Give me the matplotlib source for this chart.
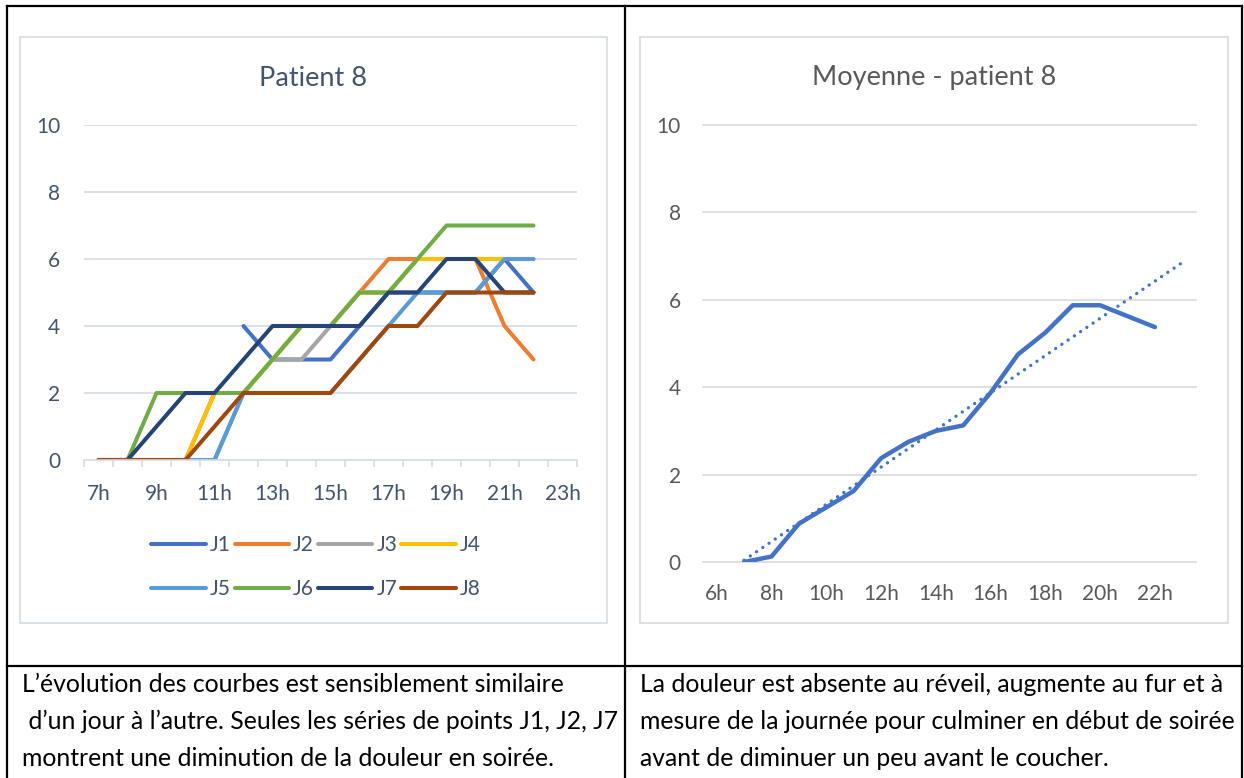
import numpy as np
import matplotlib.pyplot as plt
from matplotlib.patches import Rectangle
from matplotlib.lines import Line2D

plt.rcParams['font.family'] = ['Lato', 'DejaVu Sans']

# left chart: pain per hour for each day J1..J8
hours_left = ["7h", "8h", "9h", "10h", "11h", "12h", "13h", "14h", "15h",
              "16h", "17h", "18h", "19h", "20h", "21h", "22h", "23h"]
nan = np.nan
j1 = [nan, nan, nan, nan, nan, 4, 3, 3, 3, 4, 5, 5, 5, 5, 6, 5, nan]
j2 = [0, 0, 0, 0, 2, 2, 3, 4, 4, 5, 6, 6, 6, 6, 4, 3, nan]
j3 = [0, 0, 0, 0, 0, 2, 3, 3, 4, 5, 5, 6, 6, 6, 6, 6, nan]
j4 = [0, 0, 0, 0, 2, 2, 3, 4, 4, 5, 5, 6, 6, 6, 6, 6, nan]
j5 = [0, 0, 0, 0, 0, 2, 2, 2, 2, 3, 4, 5, 5, 5, 6, 6, nan]
j6 = [0, 0, 2, 2, 2, 2, 3, 4, 4, 5, 5, 6, 7, 7, 7, 7, nan]
j7 = [0, 0, 1, 2, 2, 3, 4, 4, 4, 4, 5, 5, 6, 6, 5, 5, nan]
j8 = [0, 0, 0, 0, 1, 2, 2, 2, 2, 3, 4, 4, 5, 5, 5, 5, nan]
series_names = ["J1", "J2", "J3", "J4", "J5", "J6", "J7", "J8"]
series_colors = ["#4472C4", "#ED7D31", "#A5A5A5", "#FFC000",
                 "#5B9BD5", "#70AD47", "#264478", "#9E480E"]

# right chart: mean
hours_right = ["6h", "7h", "8h", "9h", "10h", "11h", "12h", "13h", "14h",
               "15h", "16h", "17h", "18h", "19h", "20h", "21h", "22h", "23h"]
mean_vals = [nan, 0, 0.125, 0.875, 1.25, 1.625, 2.375, 2.75, 3.0, 3.125,
             3.875, 4.75, 5.25, 5.875, 5.875, 5.625, 5.375, nan]

text_left = ["L\u2019évolution des courbes est sensiblement similaire",
             " d\u2019un jour à l\u2019autre. Seules les séries de points J1, J2, J7",
             "montrent une diminution de la douleur en soirée."]
text_right = ["La douleur est absente au réveil, augmente au fur et à",
              "mesure de la journée pour culminer en début de soirée",
              "avant de diminuer un peu avant le coucher."]

W, H = 1244, 778
fig = plt.figure(figsize=(W / 100, H / 100), dpi=100)


def fx(px):
    return px / W


def fy(py):
    return 1 - py / H


# table borders
for (x0, y0, x1, y1) in [(7, 6, 1242, 6), (7, 6, 7, 778), (1242, 6, 1242, 778),
                         (625, 6, 625, 778), (7, 666, 1242, 666)]:
    fig.add_artist(Line2D([fx(x0), fx(x1)], [fy(y0), fy(y1)], color="black", lw=1.6))

# chart frames
fig.add_artist(Rectangle((fx(20), fy(623)), fx(607) - fx(20), fy(37) - fy(623),
                         fill=False, ec="#D6DCE5", lw=1.2))
fig.add_artist(Rectangle((fx(640), fy(623)), fx(1228) - fx(640), fy(37) - fy(623),
                         fill=False, ec="#D9D9D9", lw=1.2))

# ---- left chart
c_txt = "#44546A"
c_grid = "#D6DCE5"
ax1 = fig.add_axes([fx(84), fy(460), fx(577) - fx(84), fy(125) - fy(460)])
x1 = np.arange(len(hours_left))
all_series = [j1, j2, j3, j4, j5, j6, j7, j8]
handles = []
for vals, name, col in zip(all_series, series_names, series_colors):
    ln, = ax1.plot(x1, vals, color=col, lw=2.9, label=name,
                   solid_capstyle="round", solid_joinstyle="round")
    handles.append(ln)
ax1.set_xlim(-0.5, len(hours_left) - 0.5)
ax1.set_ylim(0, 10)
ax1.set_yticks(range(0, 11, 2))
ax1.set_xticks(x1[::2])
ax1.set_xticklabels(hours_left[::2])
ax1.set_xticks(np.arange(-0.5, len(hours_left), 1), minor=True)
ax1.tick_params(axis="x", which="major", length=0, pad=17, labelsize=15, labelcolor=c_txt)
ax1.tick_params(axis="x", which="minor", length=5, width=1.2, color=c_grid, direction="out")
ax1.tick_params(axis="y", length=0, pad=17, labelsize=15, labelcolor=c_txt)
for s in ["top", "right", "left"]:
    ax1.spines[s].set_visible(False)
ax1.spines["bottom"].set_color(c_grid)
ax1.spines["bottom"].set_linewidth(1.2)
ax1.grid(axis="y", color=c_grid, lw=1.2)
ax1.set_axisbelow(True)
fig.text(fx(313), fy(78), "Patient 8", ha="center", va="center", fontsize=19.5, color=c_txt)
# legend fills by column, so reorder to read J1..J4 / J5..J8 row by row
order = [0, 4, 1, 5, 2, 6, 3, 7]
ax1.legend([handles[i] for i in order], [series_names[i] for i in order],
           ncol=4, loc="center", bbox_to_anchor=(fx(316), fy(567)),
           bbox_transform=fig.transFigure, frameon=False, fontsize=15,
           labelcolor=c_txt, handlelength=2.6, handletextpad=0.2,
           columnspacing=0.2, labelspacing=1.15)

# ---- right chart
c_txt2 = "#595959"
c_grid2 = "#D9D9D9"
ax2 = fig.add_axes([fx(703), fy(562), fx(1196) - fx(703), fy(125) - fy(562)])
x2 = np.arange(len(hours_right))
ax2.plot(x2, mean_vals, color="#4472C4", lw=3.2, solid_capstyle="round",
         solid_joinstyle="round")
# linear trend line on the mean, one period forward
mv = np.array(mean_vals)
ok = ~np.isnan(mv)
coef = np.polyfit(x2[ok], mv[ok], 1)
xt = np.array([x2[ok][0], x2[ok][-1] + 1])
ax2.plot(xt, np.polyval(coef, xt), color="#4472C4", lw=2.4,
         linestyle=(0, (0.01, 2.25)), dash_capstyle="round")
ax2.set_xlim(-0.5, len(hours_right) - 0.5)
ax2.set_ylim(0, 10)
ax2.set_yticks(range(0, 11, 2))
ax2.set_xticks(x2[::2])
ax2.set_xticklabels(hours_right[::2])
ax2.tick_params(axis="x", length=0, pad=16, labelsize=15, labelcolor=c_txt2)
ax2.tick_params(axis="y", length=0, pad=16, labelsize=15, labelcolor=c_txt2)
for s in ax2.spines.values():
    s.set_visible(False)
ax2.grid(axis="y", color=c_grid2, lw=1.2, clip_on=False)
ax2.set_axisbelow(True)
fig.text(fx(934), fy(77), "Moyenne - patient 8", ha="center", va="center",
         fontsize=19.5, color=c_txt2)

# ---- comment text
for i, line in enumerate(text_left):
    fig.text(fx(22), fy(692 + 37 * i), line, ha="left", va="baseline",
             fontsize=17.8, color="black")
for i, line in enumerate(text_right):
    fig.text(fx(640), fy(692 + 37 * i), line, ha="left", va="baseline",
             fontsize=17.8, color="black")

fig.savefig("out.png", dpi=100)
